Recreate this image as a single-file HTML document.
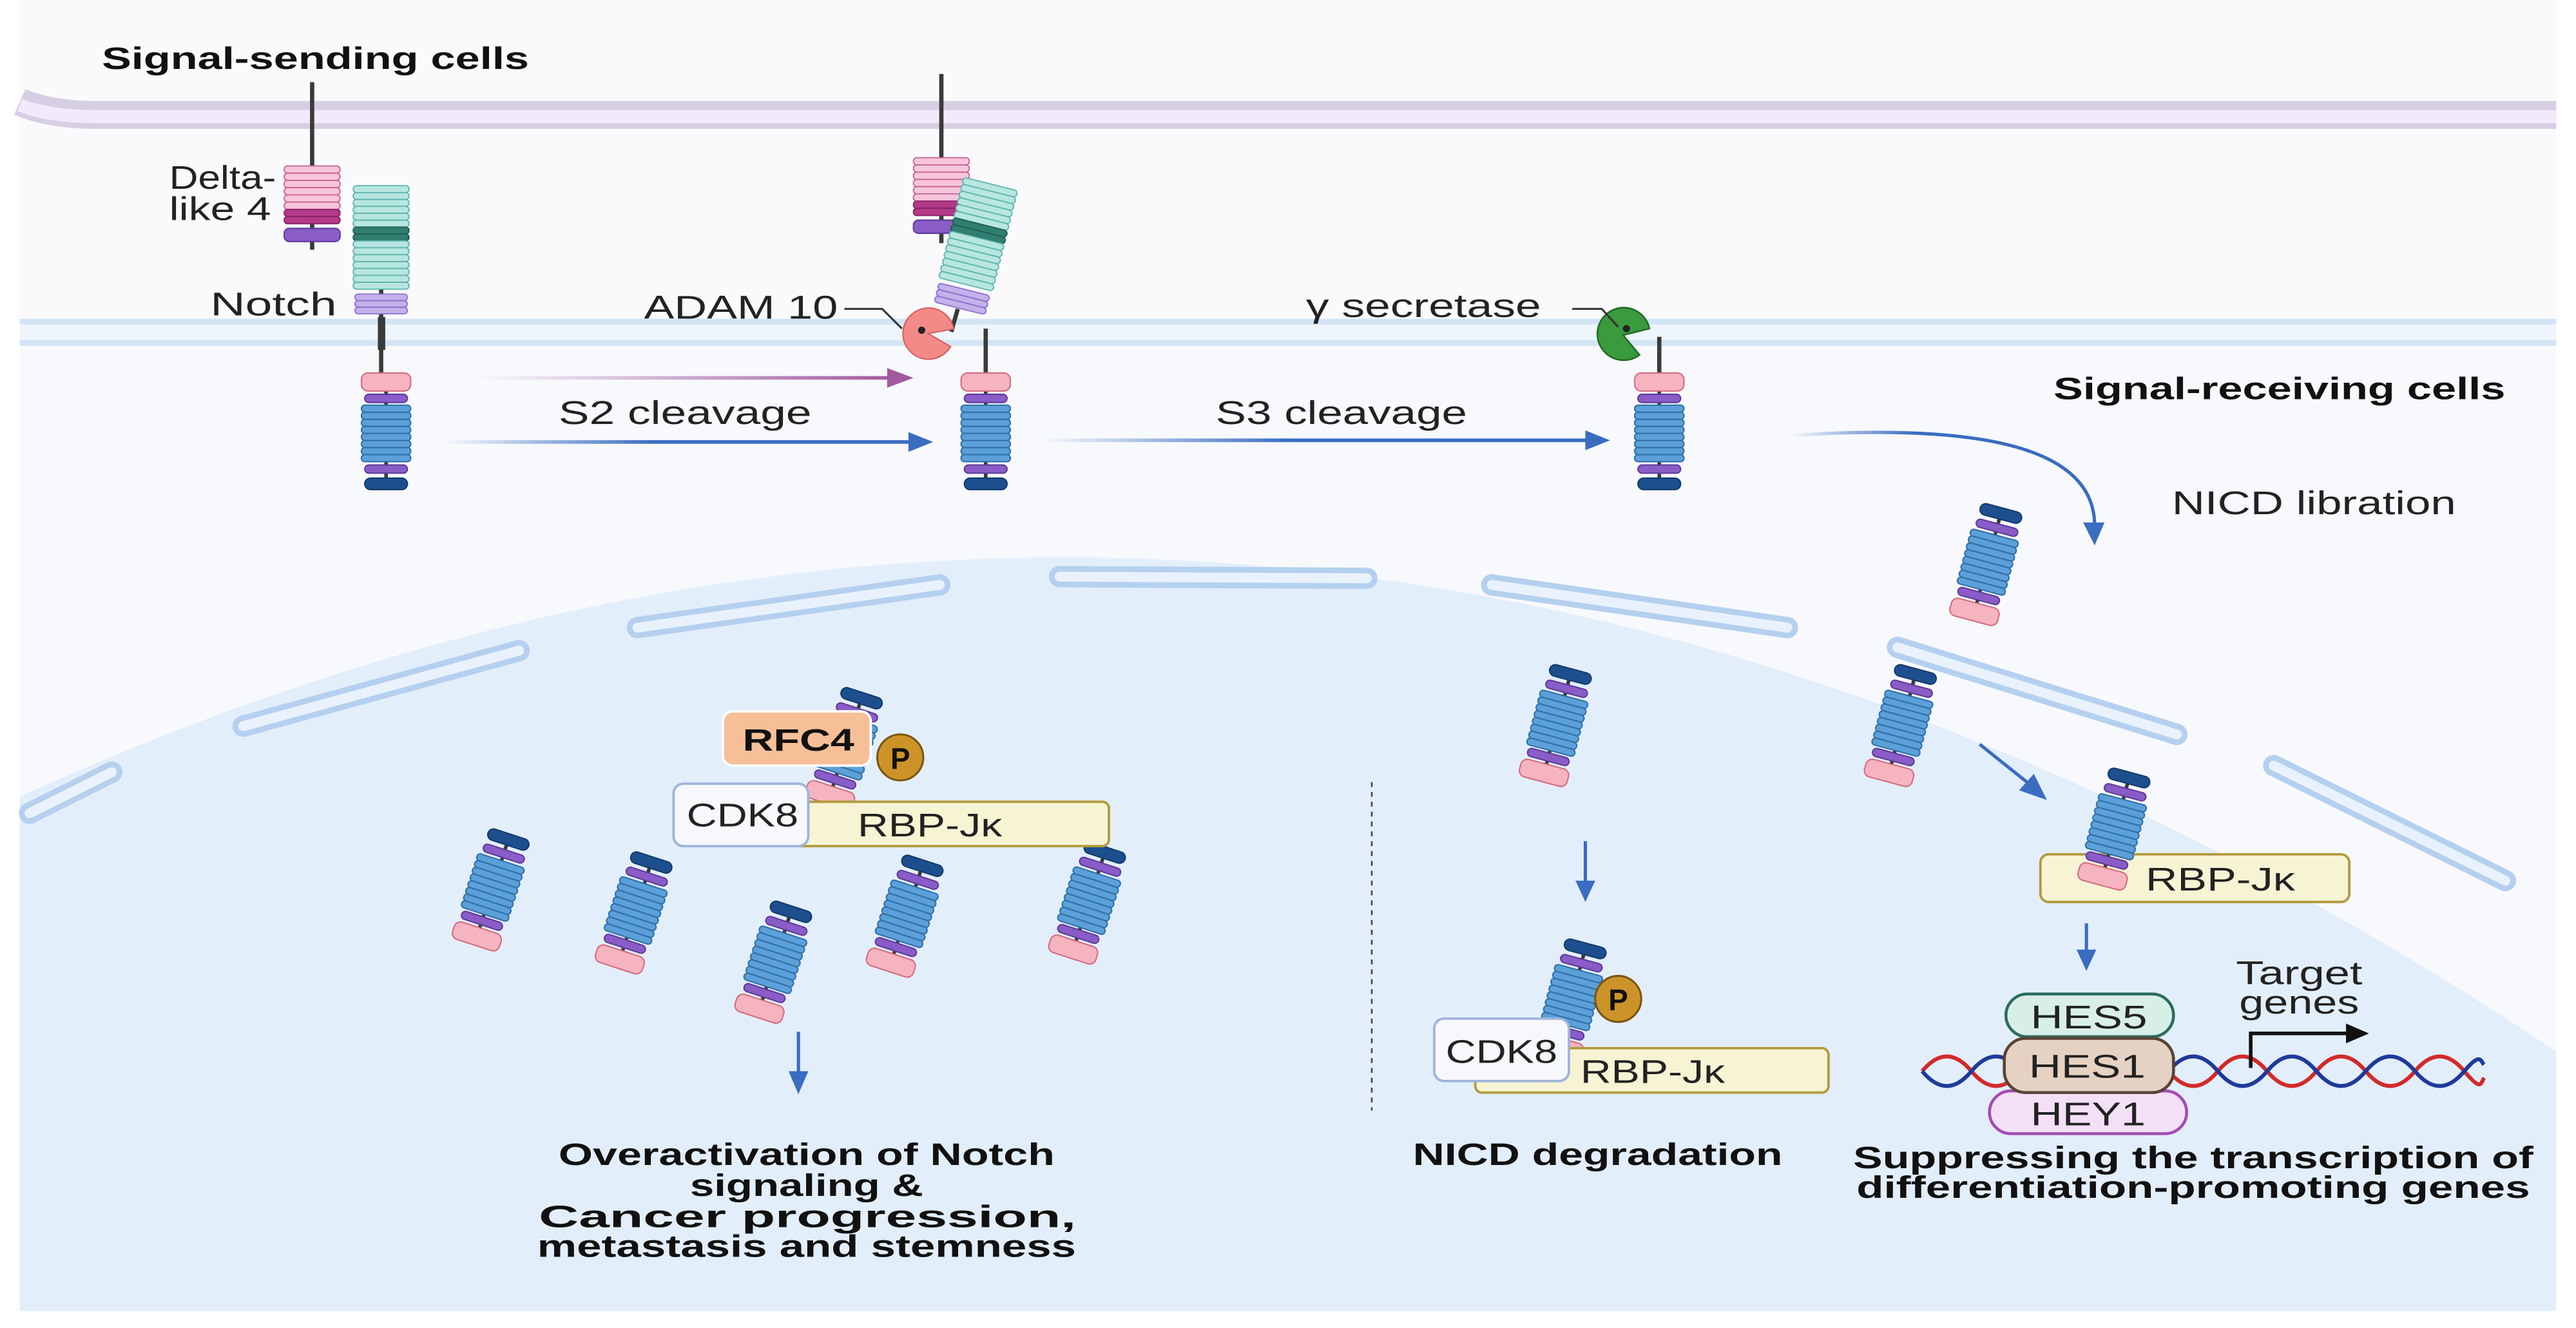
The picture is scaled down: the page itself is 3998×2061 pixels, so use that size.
<!DOCTYPE html>
<html><head><meta charset="utf-8"><style>
html,body{margin:0;padding:0;background:#fff;}
svg{display:block;}
text{font-family:"Liberation Sans",sans-serif;fill:#222;}
.b{font-weight:bold;fill:#111;}
</style></head><body>
<svg width="3998" height="2061" viewBox="0 0 1568 808.3" preserveAspectRatio="none" xmlns="http://www.w3.org/2000/svg">
<defs>
<g id="nicd">
<line x1="0" y1="-30" x2="0" y2="30" stroke="#3a3a3a" stroke-width="2.2"/>
<rect x="-13" y="-34" width="26" height="7" rx="3.5" fill="#1d4f8f" stroke="#123a6a" stroke-width="0.8"/>
<rect x="-13" y="-24" width="26" height="5" rx="2.5" fill="#8a5cc7" stroke="#5e3a99" stroke-width="0.8"/>
<g fill="#5ba0d8" stroke="#2f6fa8" stroke-width="0.8">
<rect x="-15" y="-17" width="30" height="4.3" rx="2"/><rect x="-15" y="-12.7" width="30" height="4.3" rx="2"/>
<rect x="-15" y="-8.4" width="30" height="4.3" rx="2"/><rect x="-15" y="-4.1" width="30" height="4.3" rx="2"/>
<rect x="-15" y="0.2" width="30" height="4.3" rx="2"/><rect x="-15" y="4.5" width="30" height="4.3" rx="2"/>
<rect x="-15" y="8.8" width="30" height="4.3" rx="2"/><rect x="-15" y="13.1" width="30" height="4.3" rx="2"/>
</g>
<rect x="-13" y="19" width="26" height="5" rx="2.5" fill="#8a5cc7" stroke="#5e3a99" stroke-width="0.8"/>
<rect x="-15" y="26" width="30" height="11" rx="4" fill="#f6b3c0" stroke="#d46a7e" stroke-width="0.8"/>
</g>
<g id="dll">
<g fill="#f7c6dc" stroke="#c9608f" stroke-width="0.7">
<rect x="-17" y="0" width="34" height="4.4" rx="2"/><rect x="-17" y="4.4" width="34" height="4.4" rx="2"/>
<rect x="-17" y="8.8" width="34" height="4.4" rx="2"/><rect x="-17" y="13.2" width="34" height="4.4" rx="2"/>
<rect x="-17" y="17.6" width="34" height="4.4" rx="2"/><rect x="-17" y="22" width="34" height="4.4" rx="2"/>
</g>
<rect x="-17" y="26.4" width="34" height="4.4" rx="2" fill="#b23a86" stroke="#8a2266" stroke-width="0.7"/>
<rect x="-17" y="30.8" width="34" height="4.4" rx="2" fill="#b23a86" stroke="#8a2266" stroke-width="0.7"/>
<rect x="-17" y="38" width="34" height="8" rx="3" fill="#8a5cc7" stroke="#5e3a99" stroke-width="0.8"/>
</g>
<g id="ecd">
<g fill="#b7e6e0" stroke="#5cb3aa" stroke-width="0.7">
<rect x="-17" y="0" width="34" height="4.2" rx="2"/><rect x="-17" y="4.2" width="34" height="4.2" rx="2"/>
<rect x="-17" y="8.4" width="34" height="4.2" rx="2"/><rect x="-17" y="12.6" width="34" height="4.2" rx="2"/>
<rect x="-17" y="16.8" width="34" height="4.2" rx="2"/><rect x="-17" y="21" width="34" height="4.2" rx="2"/>
</g>
<rect x="-17" y="25.2" width="34" height="4.2" rx="2" fill="#2f7e70" stroke="#1f5e52" stroke-width="0.7"/>
<rect x="-17" y="29.4" width="34" height="4.2" rx="2" fill="#2f7e70" stroke="#1f5e52" stroke-width="0.7"/>
<g fill="#b7e6e0" stroke="#5cb3aa" stroke-width="0.7">
<rect x="-17" y="33.6" width="34" height="4.2" rx="2"/><rect x="-17" y="37.8" width="34" height="4.2" rx="2"/>
<rect x="-17" y="42" width="34" height="4.2" rx="2"/><rect x="-17" y="46.2" width="34" height="4.2" rx="2"/>
<rect x="-17" y="50.4" width="34" height="4.2" rx="2"/><rect x="-17" y="54.6" width="34" height="4.2" rx="2"/>
<rect x="-17" y="58.8" width="34" height="4.2" rx="2"/>
</g>
<g fill="#c3b1ea" stroke="#8a6fcf" stroke-width="0.7">
<rect x="-16" y="66" width="32" height="4" rx="2"/><rect x="-16" y="70" width="32" height="4" rx="2"/><rect x="-16" y="74" width="32" height="4" rx="2"/>
</g>
</g>
<linearGradient id="gm" gradientUnits="userSpaceOnUse" x1="290" y1="0" x2="545" y2="0"><stop offset="0" stop-color="#a15aa0" stop-opacity="0"/><stop offset="1" stop-color="#a15aa0"/></linearGradient>
<linearGradient id="gb1" gradientUnits="userSpaceOnUse" x1="270" y1="0" x2="555" y2="0"><stop offset="0" stop-color="#3a6cc0" stop-opacity="0"/><stop offset="0.45" stop-color="#3a6cc0"/></linearGradient>
<linearGradient id="gb2" gradientUnits="userSpaceOnUse" x1="635" y1="0" x2="967" y2="0"><stop offset="0" stop-color="#3a6cc0" stop-opacity="0"/><stop offset="0.45" stop-color="#3a6cc0"/></linearGradient>
<linearGradient id="gb3" gradientUnits="userSpaceOnUse" x1="1090" y1="0" x2="1280" y2="0"><stop offset="0" stop-color="#3a6cc0" stop-opacity="0"/><stop offset="0.4" stop-color="#3a6cc0"/></linearGradient>
</defs>

<rect x="0" y="0" width="1568" height="808.3" fill="#fff"/>
<rect x="12" y="0" width="1544" height="798" fill="#fafafd"/>
<rect x="12" y="210" width="1544" height="588" fill="#f7f9fd"/>
<path d="M12,485 Q790,130 1556,640 L1556,798 L12,798 Z" fill="#e3eefb"/>

<path d="M12,62 Q30,70 60,70 L1556,70" fill="none" stroke="#d6cfe4" stroke-width="17"/>
<path d="M12,64 Q30,71 60,71 L1556,71" fill="none" stroke="#f0eafb" stroke-width="8"/>
<rect x="12" y="195" width="1544" height="15" fill="#eef5fd"/>
<rect x="12" y="194" width="1544" height="3.5" fill="#d3e4f5"/>
<rect x="12" y="207" width="1544" height="3.5" fill="#d3e4f5"/>

<g fill="none" stroke="#b5d0ef" stroke-width="13" stroke-linecap="round">
<path d="M18,495 L68,470"/>
<path d="M148,442 L316,396"/>
<path d="M388,382 L572,356"/>
<path d="M645,351 L832,352"/>
<path d="M908,356 L1088,382"/>
<path d="M1155,394 L1325,447"/>
<path d="M1384,466 L1525,536"/>
</g>
<g fill="none" stroke="#e9f2fc" stroke-width="6" stroke-linecap="round">
<path d="M18,495 L68,470"/>
<path d="M148,442 L316,396"/>
<path d="M388,382 L572,356"/>
<path d="M645,351 L832,352"/>
<path d="M908,356 L1088,382"/>
<path d="M1155,394 L1325,447"/>
<path d="M1384,466 L1525,536"/>
</g>

<text x="62" y="42" class="b" font-size="19" textLength="260" lengthAdjust="spacingAndGlyphs">Signal-sending cells</text>
<text x="103" y="115" font-size="20" textLength="65" lengthAdjust="spacingAndGlyphs">Delta-</text>
<text x="103" y="134" font-size="20" textLength="62" lengthAdjust="spacingAndGlyphs">like 4</text>
<text x="128" y="192" font-size="20" textLength="77" lengthAdjust="spacingAndGlyphs">Notch</text>
<text x="392" y="194" font-size="20" textLength="118" lengthAdjust="spacingAndGlyphs">ADAM 10</text>
<text x="795" y="193" font-size="20" textLength="143" lengthAdjust="spacingAndGlyphs">γ secretase</text>
<text x="340" y="258" font-size="20" textLength="154" lengthAdjust="spacingAndGlyphs">S2 cleavage</text>
<text x="740" y="258" font-size="20" textLength="153" lengthAdjust="spacingAndGlyphs">S3 cleavage</text>
<text x="1250" y="243" class="b" font-size="19" textLength="275" lengthAdjust="spacingAndGlyphs">Signal-receiving cells</text>
<text x="1322" y="313" font-size="20" textLength="173" lengthAdjust="spacingAndGlyphs">NICD libration</text>

<line x1="190" y1="50" x2="190" y2="152" stroke="#3a3a3a" stroke-width="2.6"/>
<use href="#dll" x="190" y="101"/>
<line x1="232" y1="170" x2="232" y2="236" stroke="#3a3a3a" stroke-width="2.6"/>
<rect x="230" y="193" width="4.5" height="20" fill="#3a3a3a"/>
<use href="#ecd" x="232" y="113"/>
<g transform="translate(235,264) scale(1,-1)"><use href="#nicd"/></g>

<line x1="573" y1="45" x2="573" y2="148" stroke="#3a3a3a" stroke-width="2.6"/>
<use href="#dll" x="573" y="96"/>
<g transform="translate(603,112) rotate(14)"><use href="#ecd"/></g>
<line x1="583" y1="188" x2="579" y2="202" stroke="#3a3a3a" stroke-width="2.6"/>
<line x1="600" y1="200" x2="600" y2="236" stroke="#3a3a3a" stroke-width="2.6"/>
<g transform="translate(565,203)">
<path d="M0,0 L19,-7 A20,20 0 1,0 19,7 Z" fill="#f48a87" stroke="#d65a5a" stroke-width="1" transform="scale(0.78) rotate(10)"/>
<circle cx="-4" cy="-2" r="2.2" fill="#222"/>
</g>
<polyline points="514,188 537,188 549,200" fill="none" stroke="#333" stroke-width="1.2"/>
<g transform="translate(600,264) scale(1,-1)"><use href="#nicd"/></g>

<line x1="1010" y1="205" x2="1010" y2="236" stroke="#3a3a3a" stroke-width="2.6"/>
<g transform="translate(988,204)">
<path d="M0,0 L16,-4 A16,16 0 1,0 10,12 Z" fill="#3a9a3e" stroke="#226b25" stroke-width="1"/>
<circle cx="2" cy="-4" r="2.2" fill="#222"/>
</g>
<polyline points="957,188 975,188 985,199" fill="none" stroke="#333" stroke-width="1.2"/>
<g transform="translate(1010,264) scale(1,-1)"><use href="#nicd"/></g>

<line x1="290" y1="230" x2="542" y2="230" stroke="url(#gm)" stroke-width="2.2"/>
<polygon points="540,224 556,230 540,236" fill="#a15aa0"/>
<line x1="270" y1="269" x2="555" y2="269" stroke="url(#gb1)" stroke-width="2.2"/>
<polygon points="553,263 568,269 553,275" fill="#3a6cc0"/>
<line x1="635" y1="268" x2="967" y2="268" stroke="url(#gb2)" stroke-width="2.2"/>
<polygon points="965,262 980,268 965,274" fill="#3a6cc0"/>
<path d="M1090,265 C1200,258 1275,270 1275,320" fill="none" stroke="url(#gb3)" stroke-width="2"/>
<polygon points="1268,318 1275,332 1281,318" fill="#3a6cc0"/>
<line x1="1205" y1="453" x2="1235" y2="477" stroke="#3a6cc0" stroke-width="2"/>
<polygon points="1229,481 1246,487 1238,471" fill="#3a6cc0"/>
<line x1="965" y1="512" x2="965" y2="538" stroke="#3a6cc0" stroke-width="2"/>
<polygon points="959,536 965,549 971,536" fill="#3a6cc0"/>
<line x1="1270" y1="562" x2="1270" y2="580" stroke="#3a6cc0" stroke-width="2"/>
<polygon points="1264,578 1270,591 1276,578" fill="#3a6cc0"/>
<line x1="486" y1="628" x2="486" y2="654" stroke="#3a6cc0" stroke-width="2"/>
<polygon points="480,652 486,666 492,652" fill="#3a6cc0"/>

<g transform="translate(1210,342) rotate(15)"><use href="#nicd"/></g>
<g transform="translate(948,440) rotate(15)"><use href="#nicd"/></g>
<g transform="translate(1158,440) rotate(15)"><use href="#nicd"/></g>
<g transform="translate(300,540) rotate(18)"><use href="#nicd"/></g>
<g transform="translate(387,554) rotate(18)"><use href="#nicd"/></g>
<g transform="translate(472,584) rotate(18)"><use href="#nicd"/></g>
<g transform="translate(552,556) rotate(18)"><use href="#nicd"/></g>
<g transform="translate(663,548) rotate(18)"><use href="#nicd"/></g>
<g transform="translate(515,454) rotate(18)"><use href="#nicd"/></g>

<rect x="440" y="433" width="90" height="33" rx="6" fill="#f7bf98" stroke="#fff" stroke-width="1.5"/>
<text x="452" y="457" class="b" font-size="19" textLength="68" lengthAdjust="spacingAndGlyphs">RFC4</text>
<circle cx="548" cy="461" r="14" fill="#cc9428" stroke="#7a5510" stroke-width="1.2"/>
<text x="548" y="468" class="b" font-size="18" text-anchor="middle">P</text>
<rect x="465" y="488" width="210" height="27" rx="4" fill="#f7f4d4" stroke="#b39a3e" stroke-width="1.5"/>
<text x="522" y="509" font-size="20" textLength="88" lengthAdjust="spacingAndGlyphs">RBP-Jκ</text>
<rect x="410" y="477" width="82" height="38" rx="6" fill="#f7f8fc" stroke="#9fb4dc" stroke-width="1.5"/>
<text x="418" y="503" font-size="20" textLength="68" lengthAdjust="spacingAndGlyphs">CDK8</text>

<line x1="835" y1="476" x2="835" y2="676" stroke="#444" stroke-width="1" stroke-dasharray="3,3"/>
<g transform="translate(957,607) rotate(15)"><use href="#nicd"/></g>
<circle cx="985" cy="608" r="14" fill="#cc9428" stroke="#7a5510" stroke-width="1.2"/>
<text x="985" y="615" class="b" font-size="18" text-anchor="middle">P</text>
<rect x="898" y="638" width="215" height="27" rx="4" fill="#f7f4d4" stroke="#b39a3e" stroke-width="1.5"/>
<text x="962" y="659" font-size="20" textLength="88" lengthAdjust="spacingAndGlyphs">RBP-Jκ</text>
<rect x="873" y="620" width="82" height="38" rx="6" fill="#f7f8fc" stroke="#9fb4dc" stroke-width="1.5"/>
<text x="880" y="647" font-size="20" textLength="68" lengthAdjust="spacingAndGlyphs">CDK8</text>

<rect x="1242" y="520" width="188" height="29" rx="5" fill="#f7f4d4" stroke="#b39a3e" stroke-width="1.5"/>
<text x="1306" y="542" font-size="20" textLength="91" lengthAdjust="spacingAndGlyphs">RBP-Jκ</text>
<g transform="translate(1288,503) rotate(15)"><use href="#nicd"/></g>

<path d="M1170,652 C1180,640 1190,640 1200,652 S1220,664 1230,652 S1250,640 1260,652 S1280,664 1290,652 S1310,640 1320,652 S1340,664 1350,652 S1370,640 1380,652 S1400,664 1410,652 S1430,640 1440,652 S1460,664 1470,652 S1490,640 1500,652 S1510,660 1512,656" fill="none" stroke="#d22a2a" stroke-width="2.4"/>
<path d="M1170,652 C1180,664 1190,664 1200,652 S1220,640 1230,652 S1250,664 1260,652 S1280,640 1290,652 S1310,664 1320,652 S1340,640 1350,652 S1370,664 1380,652 S1400,640 1410,652 S1430,664 1440,652 S1460,640 1470,652 S1490,664 1500,652 S1510,646 1512,648" fill="none" stroke="#1f3a9a" stroke-width="2.4"/>
<polyline points="1370,650 1370,629 1430,629" fill="none" stroke="#111" stroke-width="2.2"/>
<polygon points="1428,623 1442,629 1428,635" fill="#111"/>
<text x="1361" y="599" font-size="20" textLength="77" lengthAdjust="spacingAndGlyphs">Target</text>
<text x="1363" y="617" font-size="20" textLength="73" lengthAdjust="spacingAndGlyphs">genes</text>
<rect x="1221" y="605" width="102" height="26" rx="13" fill="#d8efe8" stroke="#2b6e5b" stroke-width="1.8"/>
<text x="1236" y="626" font-size="20" textLength="71" lengthAdjust="spacingAndGlyphs">HES5</text>
<rect x="1211" y="664" width="120" height="26" rx="13" fill="#f3e0f7" stroke="#a24db3" stroke-width="1.8"/>
<text x="1236" y="685" font-size="20" textLength="70" lengthAdjust="spacingAndGlyphs">HEY1</text>
<rect x="1220" y="632" width="103" height="33" rx="13" fill="#e6d2c3" stroke="#5a4236" stroke-width="1.8"/>
<text x="1235" y="656" font-size="20" textLength="71" lengthAdjust="spacingAndGlyphs">HES1</text>

<text x="340" y="709" class="b" font-size="19" textLength="302" lengthAdjust="spacingAndGlyphs">Overactivation of Notch</text>
<text x="420" y="728" class="b" font-size="19" textLength="142" lengthAdjust="spacingAndGlyphs">signaling &amp;</text>
<text x="328" y="747" class="b" font-size="19" textLength="327" lengthAdjust="spacingAndGlyphs">Cancer progression,</text>
<text x="327" y="765" class="b" font-size="19" textLength="328" lengthAdjust="spacingAndGlyphs">metastasis and stemness</text>
<text x="860" y="709" class="b" font-size="19" textLength="225" lengthAdjust="spacingAndGlyphs">NICD degradation</text>
<text x="1128" y="711" class="b" font-size="19" textLength="414" lengthAdjust="spacingAndGlyphs">Suppressing the transcription of</text>
<text x="1130" y="729" class="b" font-size="19" textLength="410" lengthAdjust="spacingAndGlyphs">differentiation-promoting genes</text>
</svg>
</body></html>
